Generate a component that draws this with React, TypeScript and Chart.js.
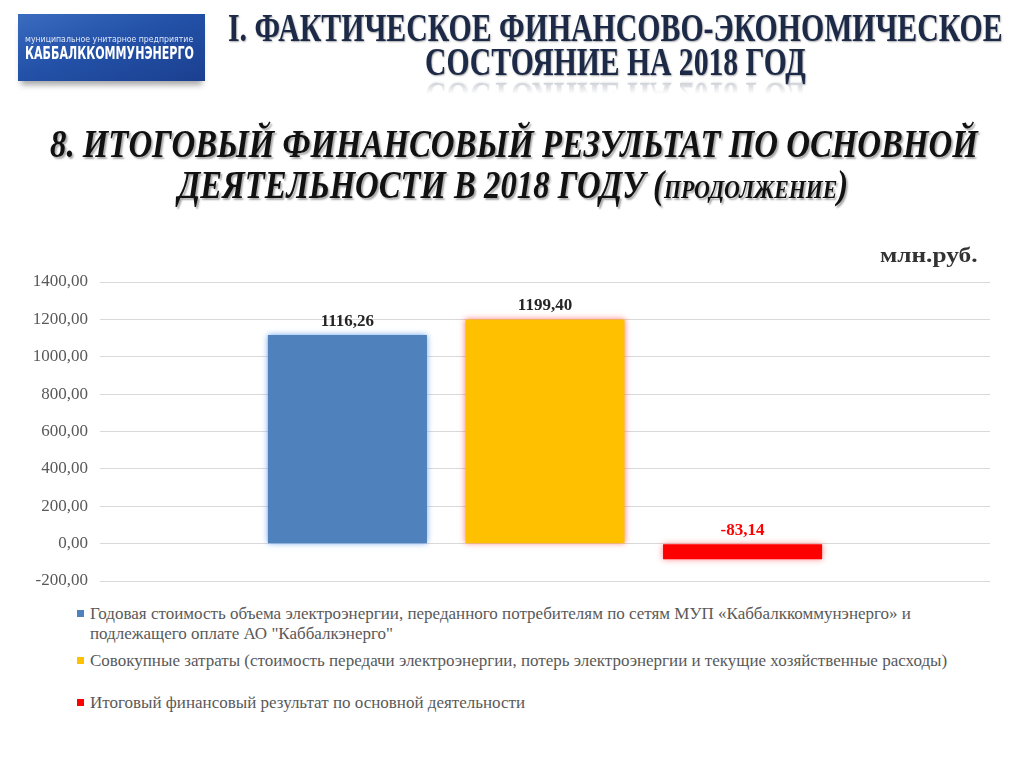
import React, { useEffect, useLayoutEffect, useRef, useState } from "react";
import { Chart, registerables } from "chart.js";

Chart.register(...registerables);

// ---------- data ----------
const categories = [""];
const seriesLabels = [
  "Годовая стоимость объема электроэнергии, переданного потребителям по сетям МУП «Каббалккоммунэнерго» и\nподлежащего оплате АО \"Каббалкэнерго\"",
  "Совокупные затраты (стоимость передачи электроэнергии, потерь электроэнергии и текущие хозяйственные расходы)",
  "Итоговый финансовый результат по основной деятельности",
];
const seriesValues = [1116.26, 1199.4, -83.14];
const seriesColors = ["#4F81BD", "#FFC000", "#FF0000"];
const glowColors = ["rgba(110,165,240,1)", "rgba(255,80,80,0.7)", "rgba(255,80,80,0.7)"];
const labelColors = ["#262626", "#262626", "#FF0000"];
const yMin = -200;
const yMax = 1400;
const yStep = 200;

const fmt = (v: number) => v.toFixed(2).replace(".", ",");

// ---------- helpers ----------
function FitText(props: {
  left: number;
  top: number;
  width: number;
  style?: React.CSSProperties;
  children: React.ReactNode;
}) {
  const ref = useRef<HTMLSpanElement>(null);
  const [sx, setSx] = useState(1);
  useLayoutEffect(() => {
    if (ref.current) {
      const w = ref.current.offsetWidth;
      if (w) setSx(props.width / w);
    }
  }, [props.width]);
  return (
    <div
      style={{
        position: "absolute",
        left: props.left,
        top: props.top,
        display: "flex",
        alignItems: "flex-start",
        whiteSpace: "nowrap",
      }}
    >
      <span
        ref={ref}
        style={{
          display: "inline-block",
          transform: `scaleX(${sx})`,
          transformOrigin: "left top",
          lineHeight: 1,
          ...props.style,
        }}
      >
        {props.children}
      </span>
    </div>
  );
}

const glowPlugin = {
  id: "glow",
  beforeDatasetDraw(chart: any, args: any) {
    const ctx = chart.ctx;
    ctx.save();
    ctx.shadowColor = glowColors[args.index];
    ctx.shadowBlur = 6;
    ctx.shadowOffsetX = 0;
    ctx.shadowOffsetY = 0;
  },
  afterDatasetDraw(chart: any) {
    chart.ctx.restore();
  },
};

const valueLabelPlugin = {
  id: "valueLabels",
  afterDatasetsDraw(chart: any) {
    const ctx = chart.ctx;
    chart.data.datasets.forEach((ds: any, i: number) => {
      const meta = chart.getDatasetMeta(i);
      meta.data.forEach((bar: any, j: number) => {
        const p = bar.getProps(["x", "y", "base"], true);
        const top = Math.min(p.y, p.base);
        ctx.save();
        ctx.font = 'bold 17px "Liberation Serif", "Times New Roman", serif';
        ctx.fillStyle = labelColors[i];
        ctx.textAlign = "center";
        ctx.textBaseline = "alphabetic";
        ctx.fillText(fmt(ds.data[j]), p.x, top - 9);
        ctx.restore();
      });
    });
  },
};

function BarChart() {
  const canvasRef = useRef<HTMLCanvasElement>(null);
  useEffect(() => {
    if (!canvasRef.current) return;
    const chart = new Chart(canvasRef.current, {
      type: "bar",
      data: {
        labels: categories,
        datasets: seriesLabels.map((label, i) => ({
          label,
          data: [seriesValues[i]],
          backgroundColor: seriesColors[i],
          borderWidth: 0,
          categoryPercentage: 0.666,
          barPercentage: 0.805,
        })),
      },
      options: {
        animation: false,
        responsive: true,
        maintainAspectRatio: false,
        layout: { padding: { top: 12, bottom: 9, left: 0, right: 10 } },
        plugins: {
          legend: { display: false },
          tooltip: { enabled: false },
          title: { display: false },
        },
        scales: {
          x: { display: false },
          y: {
            min: yMin,
            max: yMax,
            afterFit: (scale: any) => {
              scale.width = 100;
              scale.paddingTop = 0;
              scale.paddingBottom = 0;
            },
            ticks: {
              stepSize: yStep,
              padding: 12,
              color: "#595959",
              font: { family: '"Liberation Serif", "Times New Roman", serif', size: 17 },
              callback: (v: any) => fmt(Number(v)),
            },
            grid: { color: "#D9D9D9", lineWidth: 1, drawTicks: false },
            border: { display: false },
          },
        },
      },
      plugins: [glowPlugin, valueLabelPlugin],
    } as any);
    return () => chart.destroy();
  }, []);
  return (
    <div style={{ position: "absolute", left: 0, top: 270, width: 1000, height: 320 }}>
      <canvas ref={canvasRef} />
    </div>
  );
}

const serif = '"Liberation Serif", "Times New Roman", serif';
const legendTops = [604, 651, 693];

export default function App() {
  return (
    <div
      style={{
        position: "absolute",
        left: 0,
        top: 0,
        width: 1024,
        height: 767,
        background: "#fff",
        overflow: "hidden",
        fontFamily: serif,
      }}
    >
      {/* logo */}
      <div
        style={{
          position: "absolute",
          left: 18,
          top: 14,
          width: 187,
          height: 67,
          background: "linear-gradient(160deg, #3a6cc0 0%, #2352a8 45%, #1b3f90 100%)",
          boxShadow: "0 7px 6px -3px rgba(0,0,0,0.35)",
        }}
      />
      <FitText left={25} top={35} width={168} style={{ fontFamily: '"DejaVu Sans", sans-serif', fontSize: 9, color: "#dfe7fa" }}>
        муниципальное унитарное предприятие
      </FitText>
      <FitText left={25} top={45} width={169} style={{ fontFamily: '"DejaVu Sans", sans-serif', fontSize: 17, fontWeight: "bold", color: "#ffffff" }}>
        КАББАЛККОММУНЭНЕРГО
      </FitText>

      {/* title 1 */}
      <FitText
        left={228}
        top={8}
        width={775}
        style={{
          fontFamily: serif,
          fontSize: 40,
          fontWeight: "bold",
          color: "#1C2A47",
          textShadow: "1px 1px 2px rgba(0,0,0,0.35)",
        }}
      >
        I. ФАКТИЧЕСКОЕ ФИНАНСОВО-ЭКОНОМИЧЕСКОЕ
      </FitText>
      <FitText
        left={425}
        top={42}
        width={381}
        style={{
          fontFamily: serif,
          fontSize: 40,
          fontWeight: "bold",
          color: "#1C2A47",
          textShadow: "1px 1px 2px rgba(0,0,0,0.35)",
          WebkitBoxReflect: "below -6px linear-gradient(transparent 55%, rgba(255,255,255,0.35))",
        } as any}
      >
        СОСТОЯНИЕ НА 2018 ГОД
      </FitText>

      {/* title 2 */}
      <FitText
        left={50}
        top={124}
        width={928}
        style={{
          fontFamily: serif,
          fontSize: 39,
          fontWeight: "bold",
          fontStyle: "italic",
          color: "#111",
          textShadow: "2px 2px 2px rgba(0,0,0,0.35)",
        }}
      >
        8. ИТОГОВЫЙ ФИНАНСОВЫЙ РЕЗУЛЬТАТ ПО ОСНОВНОЙ
      </FitText>
      <FitText
        left={178}
        top={165}
        width={670}
        style={{
          fontFamily: serif,
          fontSize: 39,
          fontWeight: "bold",
          fontStyle: "italic",
          color: "#111",
          textShadow: "2px 2px 2px rgba(0,0,0,0.35)",
        }}
      >
        ДЕЯТЕЛЬНОСТИ В 2018 ГОДУ (<span style={{ fontSize: 26 }}>ПРОДОЛЖЕНИЕ</span>)
      </FitText>

      <FitText
        left={880}
        top={244}
        width={98}
        style={{ fontFamily: serif, fontSize: 22, fontWeight: "bold", color: "#333" }}
      >
        млн.руб.
      </FitText>

      <BarChart />

      {/* legend */}
      {seriesLabels.map((label, i) => (
        <div
          key={i}
          style={{
            position: "absolute",
            left: 77,
            top: legendTops[i],
            display: "flex",
            alignItems: "flex-start",
            fontFamily: serif,
            fontSize: 17,
            lineHeight: "20px",
            color: "#595959",
            whiteSpace: "pre-line",
          }}
        >
          <span
            style={{
              display: "inline-block",
              width: 7,
              height: 7,
              marginTop: 6,
              marginRight: 6,
              background: seriesColors[i],
              flex: "none",
            }}
          />
          <span>{label}</span>
        </div>
      ))}
    </div>
  );
}
